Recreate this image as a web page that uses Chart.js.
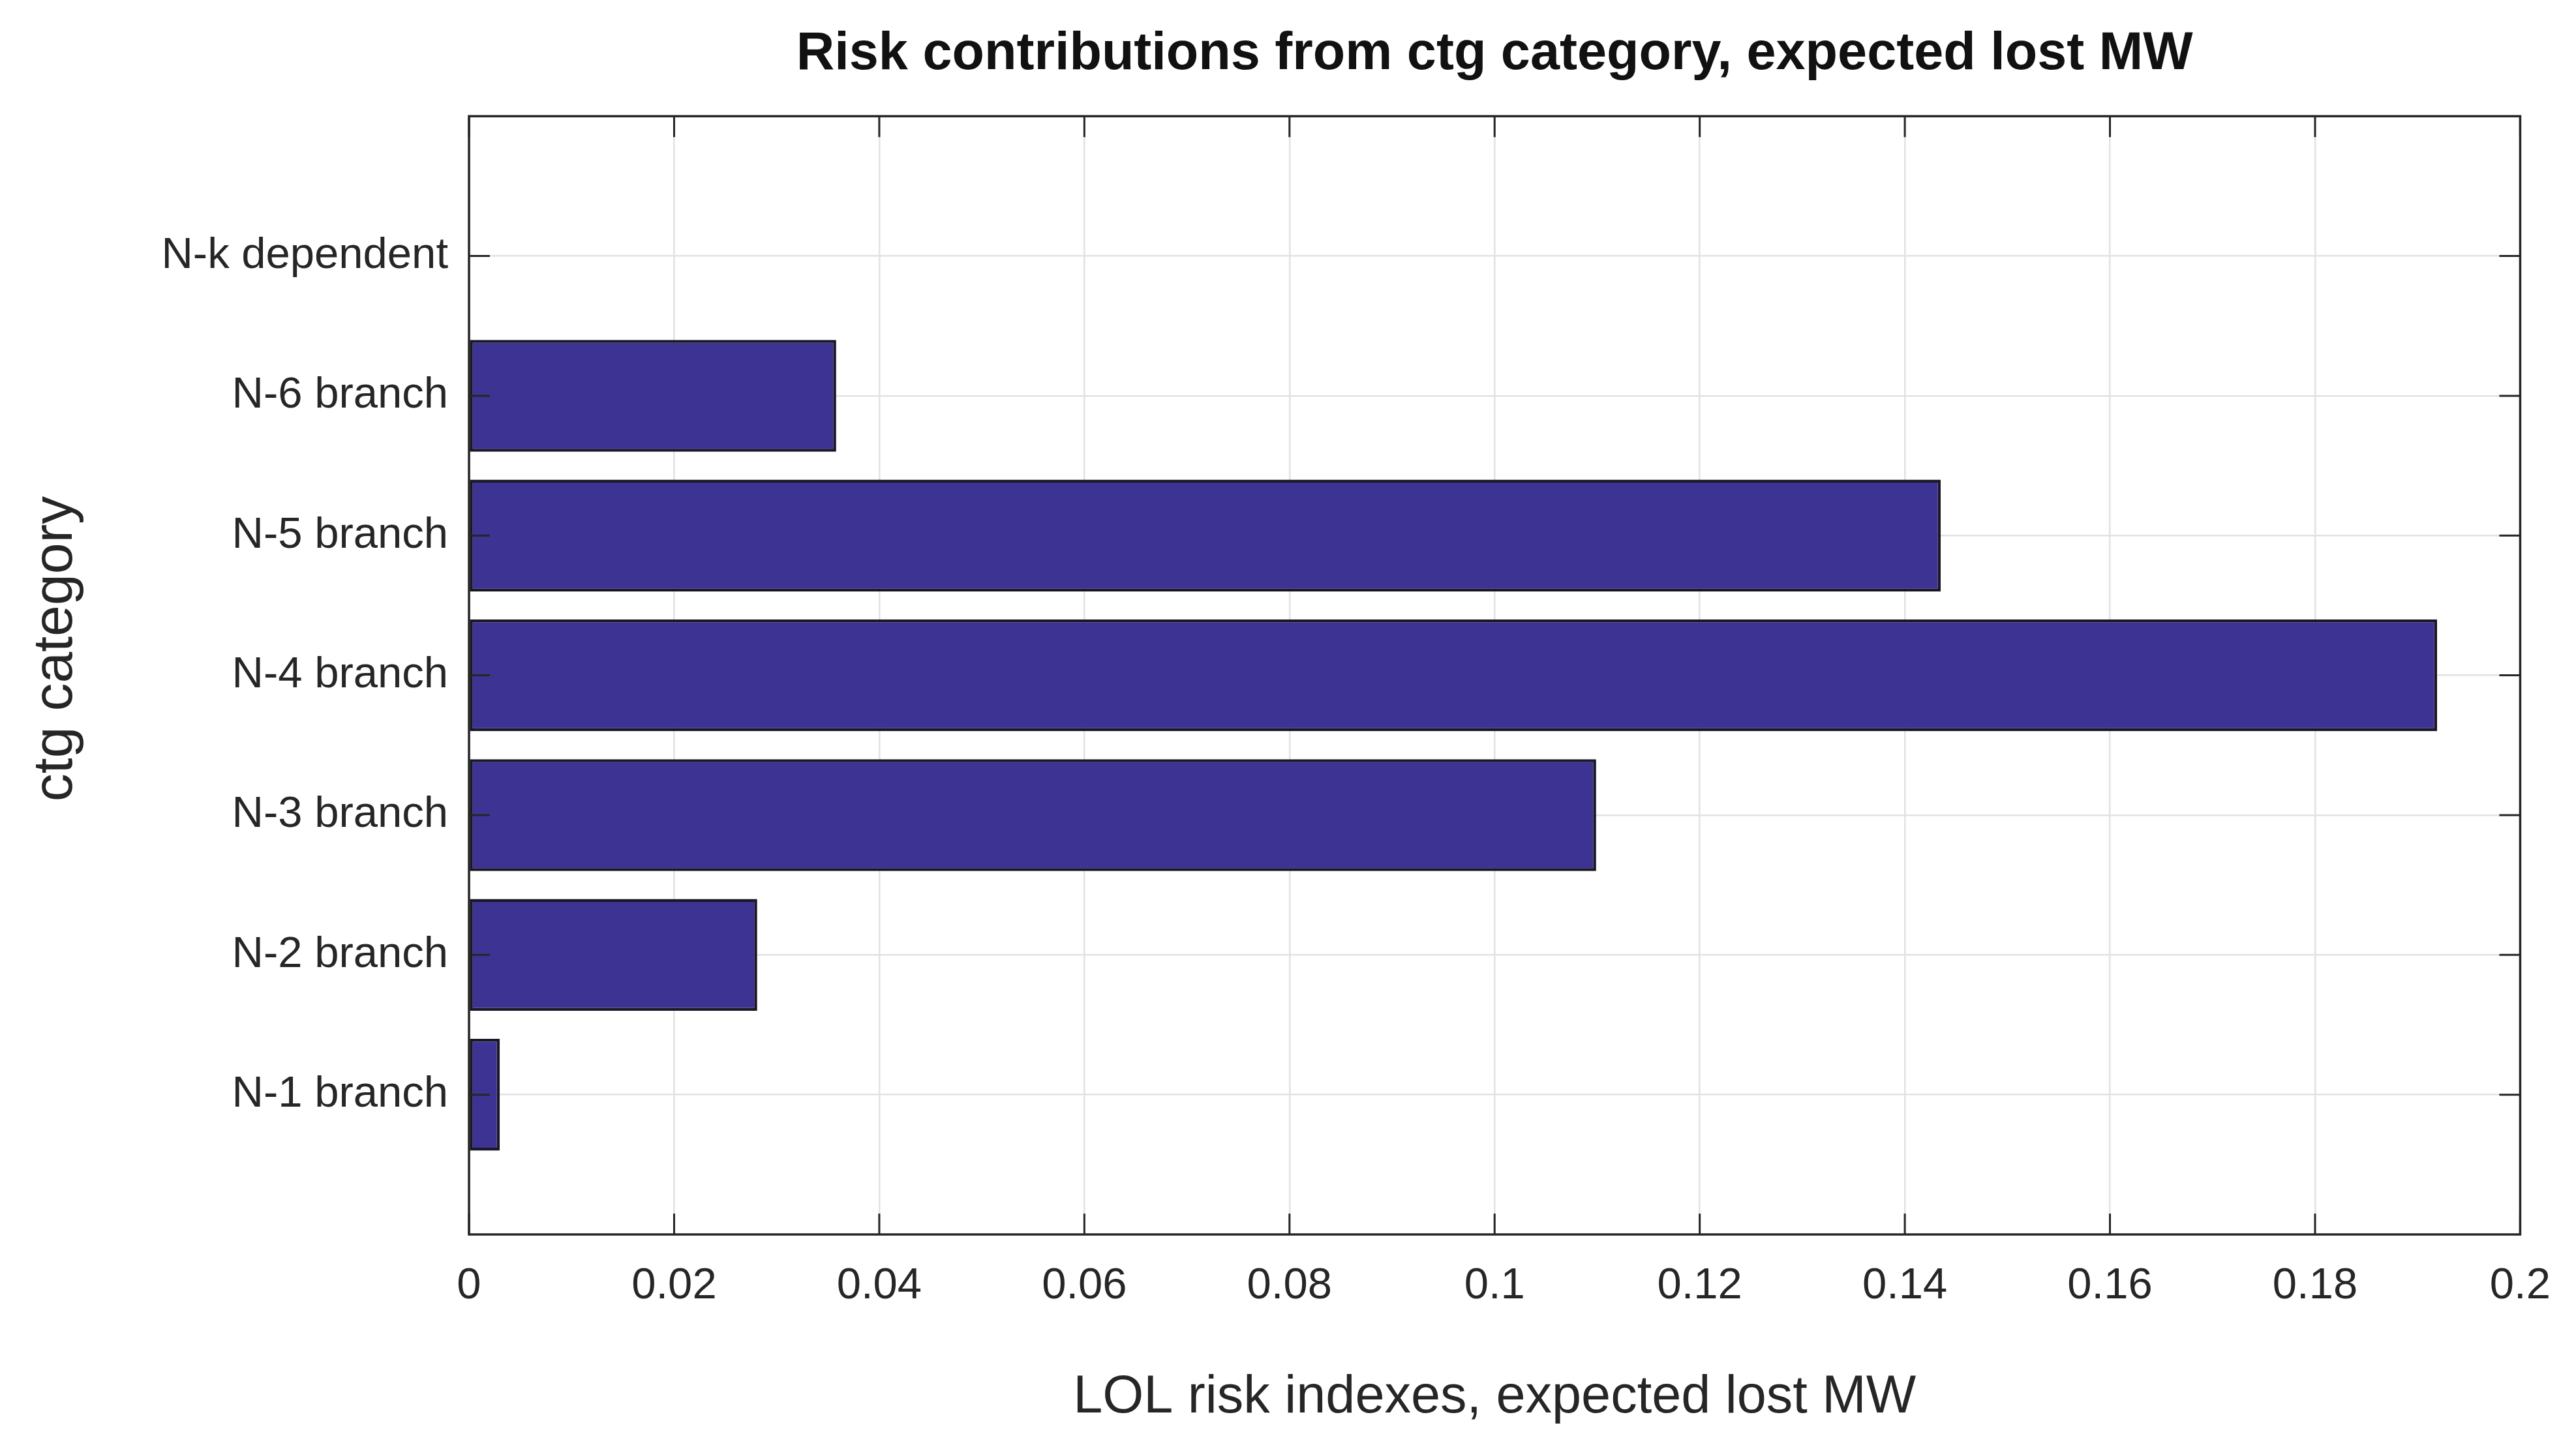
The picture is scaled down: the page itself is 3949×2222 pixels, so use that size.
<!DOCTYPE html>
<html lang="en">
<head>
    <meta charset="UTF-8">
    <title>Risk contributions from ctg category</title>
    <style>
        body {
            margin: 0;
            padding: 0;
            background: #fff;
        }
        #risk-chart {
            display: block;
            width: 3949px;
            height: 2222px;
        }
    </style>
</head>
<body>
    <canvas id="risk-chart" width="3949" height="2222"></canvas>

    <script src="https://cdn.jsdelivr.net/npm/chart.js"></script>
    <script>
        // bottom to top, as in the figure
        const categories = ['N-1 branch', 'N-2 branch', 'N-3 branch', 'N-4 branch', 'N-5 branch', 'N-6 branch', 'N-k dependent'];
        const lolRisk = [0.0030, 0.0281, 0.1099, 0.1919, 0.1435, 0.0358, 0];
        const xTickValues = [0, 0.02, 0.04, 0.06, 0.08, 0.1, 0.12, 0.14, 0.16, 0.18, 0.2];
        const xTickLabels = ['0', '0.02', '0.04', '0.06', '0.08', '0.1', '0.12', '0.14', '0.16', '0.18', '0.2'];

        const fontFamily = '"Liberation Sans", Arial, Helvetica, sans-serif';
        const axisColor = '#262626';

        // MATLAB style box with inward ticks on all four sides, plus the rotated y label
        const boxPlugin = {
            id: 'boxAndTicks',
            afterDatasetsDraw(chart) {
                const ctx = chart.ctx;
                const a = chart.chartArea;
                const xs = chart.scales.x;
                const ys = chart.scales.y;
                const len = 32;
                ctx.save();
                ctx.strokeStyle = axisColor;
                ctx.lineWidth = 3;
                ctx.beginPath();
                xs.ticks.forEach(t => {
                    const px = xs.getPixelForValue(t.value);
                    ctx.moveTo(px, a.bottom); ctx.lineTo(px, a.bottom - len);
                    ctx.moveTo(px, a.top); ctx.lineTo(px, a.top + len);
                });
                ys.ticks.forEach(t => {
                    const py = ys.getPixelForValue(t.value);
                    ctx.moveTo(a.left, py); ctx.lineTo(a.left + len, py);
                    ctx.moveTo(a.right, py); ctx.lineTo(a.right - len, py);
                });
                ctx.stroke();
                ctx.lineWidth = 3.5;
                ctx.strokeRect(a.left, a.top, a.right - a.left, a.bottom - a.top);
                ctx.restore();
            },
            afterDraw(chart) {
                const ctx = chart.ctx;
                ctx.save();
                ctx.translate(86, 995);
                ctx.rotate(-Math.PI / 2);
                ctx.font = '86px ' + fontFamily;
                ctx.fillStyle = axisColor;
                ctx.textAlign = 'center';
                ctx.textBaseline = 'middle';
                ctx.fillText('ctg category', 0, 0);
                ctx.restore();
            }
        };

        const ctx = document.getElementById('risk-chart').getContext('2d');
        new Chart(ctx, {
            type: 'bar',
            data: {
                datasets: [{
                    label: 'LOL risk',
                    data: lolRisk.map((v, i) => ({ x: v, y: i + 1 })),
                    backgroundColor: '#3d3392',
                    borderColor: '#1a1826',
                    borderWidth: 4.5,
                    borderSkipped: false,
                    categoryPercentage: 0.8,
                    barPercentage: 1.0
                }]
            },
            options: {
                indexAxis: 'y',
                responsive: false,
                devicePixelRatio: 1,
                animation: false,
                layout: {
                    padding: { left: 0, right: 75, top: 0, bottom: 0 }
                },
                plugins: {
                    legend: { display: false },
                    tooltip: { enabled: false },
                    title: {
                        display: true,
                        fullSize: false,
                        text: 'Risk contributions from ctg category, expected lost MW',
                        color: '#111',
                        font: { family: fontFamily, size: 81, weight: 'bold', lineHeight: 1.2 },
                        padding: { top: 35, bottom: 46 }
                    }
                },
                scales: {
                    x: {
                        type: 'linear',
                        min: 0,
                        max: 0.2,
                        afterBuildTicks: scale => {
                            scale.ticks = xTickValues.map(v => ({ value: v }));
                        },
                        afterFit: scale => {
                            scale.height = 329;
                        },
                        border: { display: false },
                        grid: { color: '#e2e2e2', lineWidth: 2.5, drawTicks: false },
                        ticks: {
                            autoSkip: false,
                            maxRotation: 0,
                            padding: 39,
                            color: axisColor,
                            font: { family: fontFamily, size: 67 },
                            callback: (v, i) => xTickLabels[i]
                        },
                        title: {
                            display: true,
                            text: 'LOL risk indexes, expected lost MW',
                            color: axisColor,
                            font: { family: fontFamily, size: 81, lineHeight: 1.2 },
                            padding: { top: 0, bottom: 30 }
                        }
                    },
                    y: {
                        type: 'linear',
                        min: 0,
                        max: 8,
                        offset: false,
                        afterBuildTicks: scale => {
                            scale.ticks = categories.map((c, i) => ({ value: i + 1 }));
                        },
                        afterFit: scale => {
                            scale.width = 719;
                        },
                        border: { display: false },
                        grid: { color: '#e2e2e2', lineWidth: 2.5, drawTicks: false, offset: false },
                        ticks: {
                            autoSkip: false,
                            padding: 32,
                            color: axisColor,
                            font: { family: fontFamily, size: 67 },
                            callback: v => categories[v - 1]
                        }
                    }
                }
            },
            plugins: [boxPlugin]
        });
    </script>
</body>
</html>
